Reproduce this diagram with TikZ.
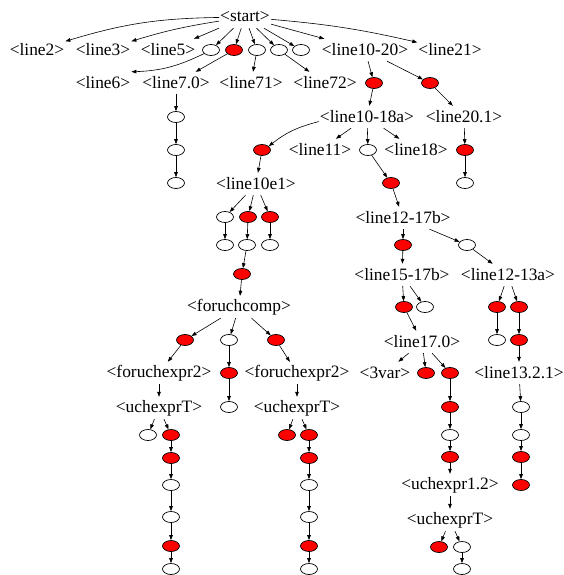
\documentclass[tikz,border=0pt]{standalone}
\usepackage{fontspec}
\setmainfont{Liberation Serif}
\usetikzlibrary{arrows.meta,shapes.geometric}

\begin{document}
\begin{tikzpicture}[
    x=1pt, y=-1pt,
    every node/.style={font=\fontsize{17.4}{20}\selectfont, inner sep=1pt, minimum height=22pt},
    wnode/.style={ellipse, draw, line width=0.7pt, fill=white, minimum width=17pt, minimum height=11pt, inner sep=0pt},
    rnode/.style={wnode, fill=red},
    arc/.style={-{Triangle[length=5pt,width=3.6pt]}, line width=0.6pt}
]
\useasboundingbox (0,0) rectangle (564,575);

% top rows
\node (start) at (245,17) {<start>};
\node (l2) at (37,50) {<line2>};
\node (l3) at (103,50) {<line3>};
\node (l5) at (168,50) {<line5>};
\node[wnode] (e1a) at (211,50) {};
\node[rnode] (e1b) at (234,50) {};
\node[wnode] (e1c) at (257,50) {};
\node[wnode] (e1d) at (279,50) {};
\node[wnode] (e1e) at (301,50) {};
\node (l1020) at (365,50) {<line10-20>};
\node (l21) at (450,50) {<line21>};

\node (l6) at (103,83) {<line6>};
\node (l70) at (176,83) {<line7.0>};
\node (l71) at (251,83) {<line71>};
\node (l72) at (325,83) {<line72>};
\node[rnode] (e2a) at (374,83) {};
\node[rnode] (e2b) at (430,83) {};

\node[wnode] (e3a) at (176,117) {};
\node (l1018) at (367,117) {<line10-18a>};
\node (l201) at (464,117) {<line20.1>};

\node[wnode] (e4a) at (176,150) {};
\node[rnode] (e4b) at (262,150) {};
\node (l11) at (320,150) {<line11>};
\node[wnode] (e4c) at (368,150) {};
\node (l18) at (416,150) {<line18>};
\node[rnode] (e4d) at (465,150) {};

\node[wnode] (e5a) at (176,183) {};
\node (l10e1) at (256,184) {<line10e1>};
\node[rnode] (e5b) at (391,183) {};
\node[wnode] (e5c) at (465,183) {};

% middle
\node[wnode] (e6a) at (225,217) {};
\node[rnode] (e6b) at (248,217) {};
\node[rnode] (e6c) at (270,217) {};
\node (l1217) at (403,218) {<line12-17b>};

\node[wnode] (e7a) at (225,245) {};
\node[wnode] (e7b) at (247,245) {};
\node[wnode] (e7c) at (270,245) {};
\node[rnode] (e7d) at (403,245) {};
\node[wnode] (e7e) at (467,245) {};

\node[rnode] (e8a) at (242,274) {};
\node (l1517) at (402,275) {<line15-17b>};
\node (l1213) at (508,275) {<line12-13a>};

\node (fcomp) at (239,307) {<foruchcomp>};
\node[rnode] (e9a) at (404,307) {};
\node[wnode] (e9b) at (425,307) {};
\node[rnode] (e9c) at (497,307) {};
\node[rnode] (e9d) at (519,307) {};

\node[rnode] (e10a) at (185,340) {};
\node[wnode] (e10b) at (229,340) {};
\node[rnode] (e10c) at (276,340) {};
\node (l170) at (422,342) {<line17.0>};
\node[wnode] (e10d) at (497,340) {};
\node[rnode] (e10e) at (519,340) {};

\node (fexp1) at (159,373) {<foruchexpr2>};
\node[rnode] (e11a) at (229,373) {};
\node (fexp2) at (297,373) {<foruchexpr2>};
\node (v3) at (385,373) {<3var>};
\node[rnode] (e11b) at (426,373) {};
\node[rnode] (e11c) at (450,373) {};
\node (l1321) at (519,373) {<line13.2.1>};

% bottom
\node (ut1) at (159,408) {<uchexprT>};
\node[wnode] (e12a) at (229,407) {};
\node (ut2) at (297,408) {<uchexprT>};
\node[rnode] (e12b) at (450,407) {};
\node[wnode] (e12c) at (521,407) {};

\node[wnode] (e13a) at (148,435) {};
\node[rnode] (e13b) at (171,435) {};
\node[rnode] (e13c) at (287,435) {};
\node[rnode] (e13d) at (309,435) {};
\node[wnode] (e13e) at (450,435) {};
\node[wnode] (e13f) at (521,435) {};

\node[rnode] (e14a) at (171,458) {};
\node[rnode] (e14b) at (309,458) {};
\node[rnode] (e14c) at (450,457) {};
\node[rnode] (e14d) at (521,457) {};

\node[wnode] (e15a) at (171,485) {};
\node[wnode] (e15b) at (309,485) {};
\node (u12) at (450,485) {<uchexpr1.2>};
\node[rnode] (e15c) at (521,485) {};

\node[wnode] (e16a) at (171,517) {};
\node[wnode] (e16b) at (309,517) {};
\node (ut3) at (450,520) {<uchexprT>};

\node[rnode] (e17a) at (171,546) {};
\node[rnode] (e17b) at (309,546) {};
\node[rnode] (e17c) at (439,547) {};
\node[wnode] (e17d) at (462,547) {};

\node[wnode] (e18a) at (171,569) {};
\node[wnode] (e18b) at (309,569) {};
\node[wnode] (e18c) at (462,569) {};

% edges
\draw[arc] (start) to[bend right=8] (l2);
\draw[arc] (start) to[bend right=4] (l3);
\draw[arc] (start) to[bend left=4] (l21);
\draw[arc] (e1a) to[bend left=12] (l6.north east);
\draw[arc] (l1018) to[bend right=12] (e4b);
\foreach \a/\b in {start/l5, start/e1a, start/e1b, start/e1c, start/e1d, start/e1e, start/l1020,
    e1b/l70, e1c/l71, e1d/l72, l1020/e2a, l1020/e2b,
    l70/e3a, e2a/l1018, e2b/l201,
    e3a/e4a, l1018/l11, l1018/e4c, l1018/l18, l201/e4d,
    e4a/e5a, e4b/l10e1, e4c/e5b, e4d/e5c,
    l10e1/e6a, l10e1/e6b, l10e1/e6c, e5b/l1217,
    e6a/e7a, e6b/e7b, e6c/e7c, l1217/e7d, l1217/e7e,
    e7b/e8a, e7d/l1517, e7e/l1213,
    e8a/fcomp, l1517/e9a, l1517/e9b, l1213/e9c, l1213/e9d,
    fcomp/e10a, fcomp/e10b, fcomp/e10c, e9a/l170, e9c/e10d, e9d/e10e,
    e10a/fexp1, e10b/e11a, e10c/fexp2, l170/v3, l170/e11b, l170/e11c, e10e/l1321,
    fexp1/ut1, e11a/e12a, fexp2/ut2, e11c/e12b, l1321/e12c,
    ut1/e13a, ut1/e13b, ut2/e13c, ut2/e13d, e12b/e13e, e12c/e13f,
    e13b/e14a, e13d/e14b, e13e/e14c, e13f/e14d,
    e14a/e15a, e14b/e15b, e14c/u12, e14d/e15c,
    e15a/e16a, e15b/e16b, u12/ut3,
    e16a/e17a, e16b/e17b, ut3/e17c, ut3/e17d,
    e17a/e18a, e17b/e18b, e17d/e18c}
    \draw[arc] (\a) -- (\b);

\end{tikzpicture}
\end{document}
